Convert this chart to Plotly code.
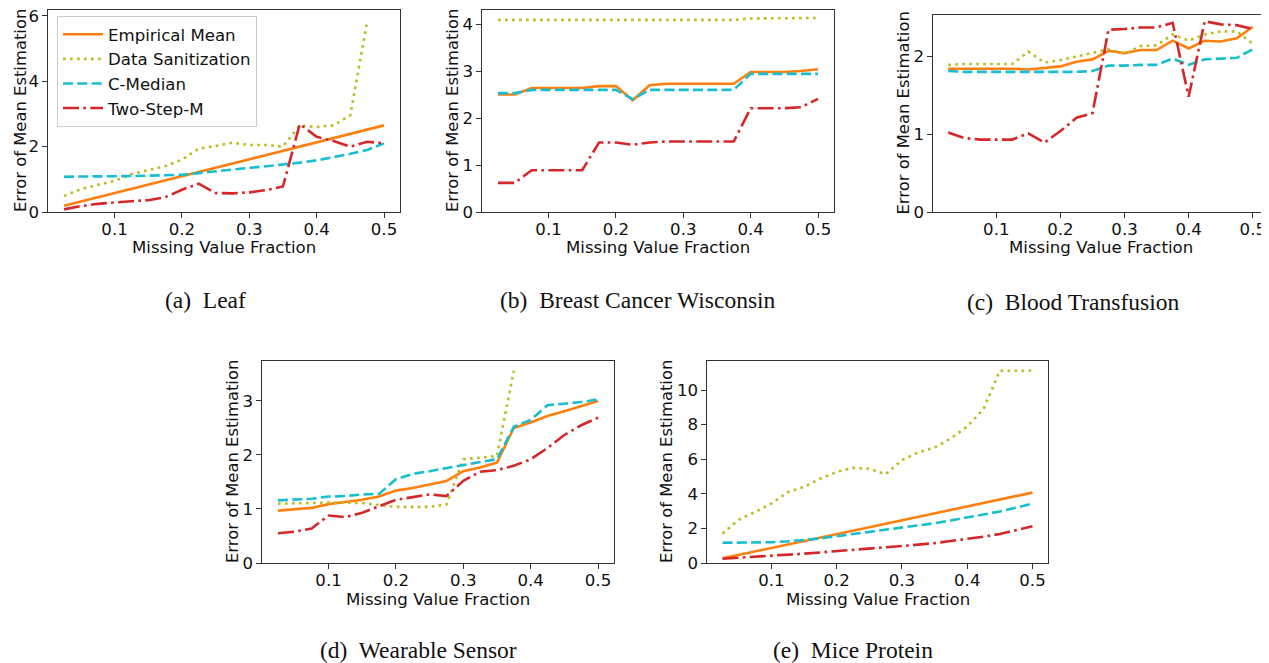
import plotly.graph_objects as go

W, H = 1269, 663          # browser window
OFF = 8                   # default page body margin
FW, FH = W - OFF, H - OFF # figure size so that it ends at the window edge

missing_frac = [0.025, 0.05, 0.075, 0.1, 0.125, 0.15, 0.175, 0.2, 0.225, 0.25,
                0.275, 0.3, 0.325, 0.35, 0.375, 0.4, 0.425, 0.45, 0.475, 0.5]

series_names = ["Empirical Mean", "Data Sanitization", "C-Median", "Two-Step-M"]

# (a) Leaf
leaf_empirical = [0.19, 0.32, 0.45, 0.58, 0.71, 0.84, 0.97, 1.10, 1.22, 1.35,
                  1.48, 1.61, 1.74, 1.86, 1.99, 2.12, 2.25, 2.38, 2.52, 2.65]
leaf_sanitization = [0.49, 0.70, 0.83, 0.95, 1.16, 1.27, 1.40, 1.60, 1.94, 2.02,
                     2.12, 2.05, 2.05, 2.00, 2.65, 2.60, 2.65, 2.96, 5.83, None]
leaf_cmedian = [1.08, 1.08, 1.09, 1.10, 1.10, 1.11, 1.12, 1.14, 1.19, 1.25,
                1.30, 1.35, 1.40, 1.45, 1.51, 1.58, 1.67, 1.78, 1.90, 2.10]
leaf_twostep = [0.08, 0.18, 0.25, 0.30, 0.33, 0.36, 0.45, 0.68, 0.87, 0.58,
                0.57, 0.60, 0.67, 0.78, 2.69, 2.30, 2.17, 2.00, 2.15, 2.10]

# (b) Breast Cancer Wisconsin
bcw_empirical = [2.50, 2.50, 2.64, 2.64, 2.64, 2.64, 2.68, 2.68, 2.38, 2.70,
                 2.73, 2.73, 2.73, 2.73, 2.73, 2.98, 2.98, 2.98, 3.00, 3.04]
bcw_sanitization = [4.09, 4.09, 4.09, 4.09, 4.09, 4.09, 4.09, 4.09, 4.09, 4.09,
                    4.09, 4.09, 4.09, 4.09, 4.09, 4.12, 4.12, 4.12, 4.13, 4.13]
bcw_cmedian = [2.53, 2.53, 2.60, 2.60, 2.60, 2.60, 2.60, 2.60, 2.40, 2.60,
               2.60, 2.60, 2.60, 2.60, 2.60, 2.94, 2.94, 2.94, 2.94, 2.94]
bcw_twostep = [0.62, 0.62, 0.89, 0.89, 0.89, 0.89, 1.48, 1.48, 1.43, 1.48,
               1.50, 1.50, 1.50, 1.50, 1.50, 2.21, 2.21, 2.21, 2.23, 2.41]

# (c) Blood Transfusion
blood_empirical = [1.84, 1.84, 1.84, 1.84, 1.84, 1.83, 1.85, 1.87, 1.93, 1.96,
                   2.07, 2.04, 2.08, 2.08, 2.20, 2.10, 2.20, 2.19, 2.23, 2.38]
blood_sanitization = [1.89, 1.90, 1.90, 1.90, 1.90, 2.06, 1.92, 1.95, 2.00, 2.05,
                      2.09, 2.03, 2.13, 2.14, 2.28, 2.20, 2.28, 2.32, 2.32, 2.16]
blood_cmedian = [1.81, 1.80, 1.80, 1.80, 1.80, 1.80, 1.80, 1.80, 1.80, 1.81,
                 1.88, 1.88, 1.89, 1.89, 1.97, 1.89, 1.96, 1.97, 1.98, 2.09]
blood_twostep = [1.02, 0.95, 0.93, 0.93, 0.93, 1.01, 0.89, 1.04, 1.21, 1.27,
                 2.34, 2.35, 2.37, 2.37, 2.43, 1.48, 2.45, 2.41, 2.40, 2.35]

# (d) Wearable Sensor
wear_empirical = [0.97, 0.99, 1.02, 1.09, 1.13, 1.17, 1.23, 1.34, 1.39, 1.45,
                  1.52, 1.70, 1.77, 1.86, 2.50, 2.60, 2.72, 2.81, 2.90, 3.00]
wear_sanitization = [1.10, 1.10, 1.11, 1.12, 1.12, 1.11, 1.07, 1.04, 1.04, 1.04,
                     1.08, 1.92, 1.95, 1.98, 3.56, None, None, None, None, None]
wear_cmedian = [1.16, 1.18, 1.19, 1.23, 1.24, 1.27, 1.28, 1.55, 1.65, 1.70,
                1.76, 1.81, 1.87, 1.92, 2.52, 2.65, 2.92, 2.95, 2.98, 3.03]
wear_twostep = [0.55, 0.58, 0.64, 0.88, 0.85, 0.93, 1.05, 1.17, 1.22, 1.27,
                1.24, 1.52, 1.69, 1.72, 1.80, 1.92, 2.13, 2.37, 2.55, 2.69]

# (e) Mice Protein
mice_empirical = [0.27, 0.47, 0.67, 0.87, 1.07, 1.27, 1.47, 1.67, 1.87, 2.07,
                  2.27, 2.47, 2.67, 2.87, 3.07, 3.27, 3.47, 3.67, 3.87, 4.07]
mice_sanitization = [1.70, 2.50, 2.95, 3.44, 4.10, 4.40, 4.88, 5.27, 5.50, 5.45,
                     5.13, 5.95, 6.40, 6.68, 7.20, 7.90, 8.90, 11.12, 11.12, 11.12]
mice_cmedian = [1.17, 1.17, 1.18, 1.20, 1.25, 1.32, 1.42, 1.55, 1.67, 1.78,
                1.90, 2.03, 2.17, 2.30, 2.46, 2.62, 2.80, 2.98, 3.20, 3.43]
mice_twostep = [0.25, 0.30, 0.36, 0.42, 0.48, 0.54, 0.61, 0.68, 0.75, 0.82,
                0.89, 0.97, 1.06, 1.15, 1.27, 1.39, 1.52, 1.68, 1.88, 2.12]

x_tick_vals = [0.1, 0.2, 0.3, 0.4, 0.5]
x_tick_text = ["0.1", "0.2", "0.3", "0.4", "0.5"]
x_title = "Missing Value Fraction"
y_title = "Error of Mean Estimation"

panel_series = [
    [leaf_empirical, leaf_sanitization, leaf_cmedian, leaf_twostep],
    [bcw_empirical, bcw_sanitization, bcw_cmedian, bcw_twostep],
    [blood_empirical, blood_sanitization, blood_cmedian, blood_twostep],
    [wear_empirical, wear_sanitization, wear_cmedian, wear_twostep],
    [mice_empirical, mice_sanitization, mice_cmedian, mice_twostep],
]
panel_yticks = [[0, 2, 4, 6], [0, 1, 2, 3, 4], [0, 1, 2], [0, 1, 2, 3], [0, 2, 4, 6, 8, 10]]
panel_captions = ["(a)  Leaf", "(b)  Breast Cancer Wisconsin", "(c)  Blood Transfusion",
                  "(d)  Wearable Sensor", "(e)  Mice Protein"]

# ---- layout / style (pixel boxes of each axes, in window pixels) ----
boxes = [  # left, right, top, bottom
    (48, 400, 10, 212),
    (482, 834, 10, 212),
    (933, 1268, 15, 212),
    (262, 614, 361, 563),
    (707, 1048, 361, 563),
]
y_tops = [6.18, 4.30, 2.53, 3.74, 11.68]
caption_pos = [(205, 300), (638, 300), (1073, 302), (418, 650), (853, 650)]
xtitle_y = [248, 248, 248, 599, 599]
ytitle_x = [20, 452, 903, 232, 666]


def px(xp):
    return (xp - OFF) / FW


def py(yp):
    return 1 - (yp - OFF) / FH


colors = ["#ff7f0e", "#bcbd22", "#17becf", "#d62728"]
dashes = ["solid", "2.7px,4.3px", "10px,4.3px", "16px,4.3px,2.7px,4.3px"]
LW = 2.6
TXT = "#111111"
AX_FONT = dict(family="DejaVu Sans", size=16.6, color=TXT)
TITLE_FONT = dict(family="DejaVu Sans", size=16.4, color=TXT)

fig = go.Figure()

for i, series in enumerate(panel_series):
    ax = "" if i == 0 else str(i + 1)
    for j, ys in enumerate(series):
        fig.add_trace(go.Scatter(
            x=missing_frac, y=ys, mode="lines", name=series_names[j],
            line=dict(color=colors[j], width=LW, dash=dashes[j]),
            showlegend=(i == 0), connectgaps=False,
            xaxis="x" + ax, yaxis="y" + ax,
        ))
    l, r, t, b = boxes[i]
    common = dict(
        showline=True, linecolor="#333333", linewidth=1.1, mirror=True,
        ticks="outside", ticklen=4.5, tickwidth=1, tickcolor="#333333",
        showgrid=False, zeroline=False, tickfont=AX_FONT,
        automargin=False, ticklabeloverflow="allow",
    )
    fig.layout["xaxis" + ax] = dict(
        domain=[px(l), px(r)], range=[0.00125, 0.52375], anchor="y" + ax,
        tickvals=x_tick_vals, ticktext=x_tick_text, ticklabelstandoff=-2,
        **common,
    )
    fig.layout["yaxis" + ax] = dict(
        domain=[py(b), py(t)], range=[0, y_tops[i]], anchor="x" + ax,
        tickvals=panel_yticks[i], **common,
    )
    # axis titles
    fig.add_annotation(
        x=px((l + r) / 2), y=py(xtitle_y[i]), xref="paper", yref="paper",
        text=x_title, showarrow=False, xanchor="center", yanchor="middle",
        font=AX_FONT,
    )
    fig.add_annotation(
        x=px(ytitle_x[i]), y=py((t + b) / 2), xref="paper", yref="paper",
        text=y_title, showarrow=False, xanchor="center", yanchor="middle",
        textangle=-90, font=TITLE_FONT,
    )
    # sub-figure caption
    cx, cy = caption_pos[i]
    fig.add_annotation(
        x=px(cx), y=py(cy), xref="paper", yref="paper",
        text=panel_captions[i], showarrow=False,
        xanchor="center", yanchor="middle",
        font=dict(family="Liberation Serif", size=23.5, color=TXT),
    )

fig.update_layout(
    width=FW, height=FH, template="none",
    margin=dict(l=0, r=0, t=0, b=0),
    paper_bgcolor="white", plot_bgcolor="white",
    legend=dict(
        x=px(57), y=py(16), xanchor="left", yanchor="top",
        bgcolor="rgba(255,255,255,0.85)", bordercolor="#cccccc", borderwidth=1,
        font=AX_FONT, itemwidth=40, tracegroupgap=0,
    ),
)

fig.write_html("out.html")
